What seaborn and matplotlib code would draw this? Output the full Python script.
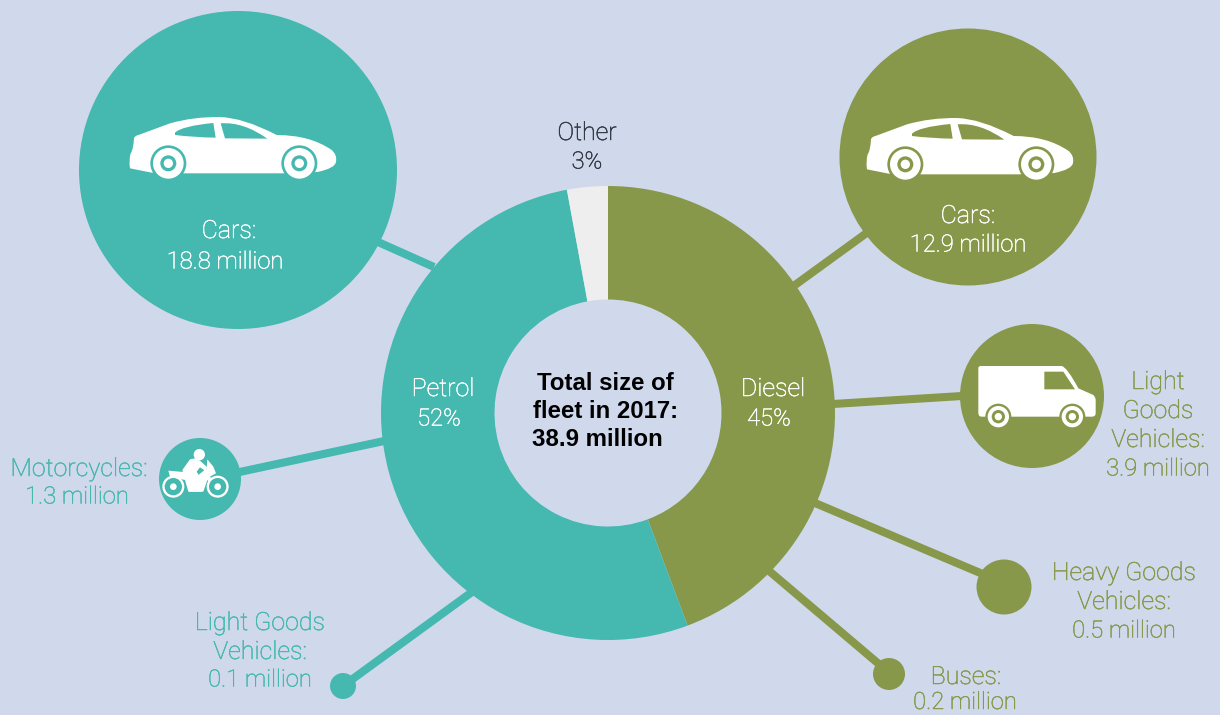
import matplotlib
matplotlib.use("Agg")
import matplotlib.pyplot as plt
import matplotlib.patheffects as pe
from matplotlib.patches import Circle, PathPatch
from matplotlib.path import Path
import pandas as pd
import seaborn as sns

# ---------- data ----------
fuel_labels = ["Diesel", "Petrol", "Other"]
fuel_labels_pct = ["45%", "52%", "3%"]
fuel_shares = [44.3, 52.8, 2.9]
vehicle_names = ["Petrol cars", "Petrol motorcycles", "Petrol LGV",
                 "Diesel cars", "Diesel LGV", "Diesel HGV", "Diesel buses"]
vehicle_fuel = ["Petrol", "Petrol", "Petrol", "Diesel", "Diesel", "Diesel", "Diesel"]
vehicle_millions = [18.8, 1.3, 0.1, 12.9, 3.9, 0.5, 0.2]

# ---------- style / layout ----------
BG, TEAL, OLIVE, PALE = "#D0D9EC", "#45B8AF", "#87984A", "#EEEEEE"
FONT = "Roboto"
CENTER, R_OUT, R_IN = (608, 413), 227, 113.5
bubble_x = [238, 200, 343, 968, 1032, 1004, 889]
bubble_y = [170, 479, 686, 157, 396, 587, 674]
bubble_r = [159, 41, 13, 128.5, 72, 27.5, 16]
links = [((378, 242), (434, 267)), ((384, 441), (235, 473)), ((472, 592), (343, 686)),
         ((795, 285), (868, 232)), ((833, 404), (962, 396)), ((815, 503), (985, 575)),
         ((768, 570), (880, 665))]
link_col = [TEAL] * 3 + [OLIVE] * 4

sns.set_theme(style="white")
fig = plt.figure(figsize=(12.2, 7.15), dpi=100, facecolor=BG)
ax = fig.add_axes([0, 0, 1, 1])
ax.set_facecolor(BG)

# links
for (a, b), c in zip(links, link_col):
    ax.plot([a[0], b[0]], [a[1], b[1]], color=c, lw=5.8, solid_capstyle="butt", zorder=1)

# donut: axis is inverted below so counterclock in data reads clockwise on screen
ax.pie(fuel_shares, colors=[OLIVE, TEAL, PALE], startangle=-90, counterclock=True,
       center=CENTER, radius=R_OUT, wedgeprops=dict(width=R_OUT - R_IN, linewidth=0),
       frame=True)

# bubbles (size mapped via seaborn; area in points^2 so the radius is in pixels)
df = pd.DataFrame({"x": bubble_x, "y": bubble_y, "name": vehicle_names,
                   "fuel": vehicle_fuel, "m": vehicle_millions})
sizes = {n: (2 * r * 0.72) ** 2 for n, r in zip(vehicle_names, bubble_r)}
sns.scatterplot(data=df, x="x", y="y", hue="fuel", size="name", sizes=sizes,
                palette={"Petrol": TEAL, "Diesel": OLIVE}, linewidth=0,
                legend=False, ax=ax, zorder=3)

ax.set_xlim(0, 1220)
ax.set_ylim(715, 0)
ax.set_aspect("equal")
ax.axis("off")
ax.set_xlabel("")
ax.set_ylabel("")


def shape(verts, codes, ox, oy, k, color, z=5):
    v = [(ox + x * k, oy + y * k) for x, y in verts]
    ax.add_patch(PathPatch(Path(v, codes), fc=color, ec="none", zorder=z))


def disc(x, y, r, ox, oy, k, color, z):
    ax.add_patch(Circle((ox + x * k, oy + y * k), r * k, fc=color, ec="none", zorder=z))


M, L, C, Z = Path.MOVETO, Path.LINETO, Path.CURVE3, Path.CLOSEPOLY


def car(ox, oy, bg):
    k = 1 / 3
    v = [(162, 145), (164, 137), (178, 134), (270, 100),
         (340, 80), (420, 81), (490, 83), (590, 135),
         (690, 135), (755, 180), (772, 195), (768, 215), (766, 235), (712, 246),
         (605, 250), (320, 250), (215, 248), (150, 235),
         (146, 210), (152, 190), (160, 180), (162, 145), (162, 145)]
    c = [M, C, C, L, C, C, C, C, C, C, C, C, C, C, L, L, L, L, C, C, C, C, Z]
    shape(v, c, ox, oy, k, "white", 5)
    w1 = [(285, 128), (305, 108), (400, 99), (407, 143), (340, 142), (285, 135), (285, 128), (285, 128)]
    shape(w1, [M, C, C, L, C, C, L, Z], ox, oy, k, bg, 6)
    w2 = [(422, 100), (490, 95), (562, 146), (435, 145), (422, 100)]
    shape(w2, [M, C, C, L, Z], ox, oy, k, bg, 6)
    for cx in (265, 658):
        disc(cx, 220, 54, ox, oy, k, bg, 6)
        disc(cx, 220, 46, ox, oy, k, "white", 7)
        disc(cx, 220, 24, ox, oy, k, bg, 8)
        disc(cx, 220, 14, ox, oy, k, "white", 9)


def van(ox, oy, bg):
    k = 1 / 3
    v = [(85, 145), (85, 138), (92, 138), (335, 138), (350, 140), (385, 205), (430, 225),
         (437, 232), (437, 240), (437, 280), (437, 290), (425, 290), (95, 290), (85, 290), (85, 278),
         (85, 145)]
    c = [M, C, C, L, C, L, L, C, C, L, C, C, L, C, C, Z]
    shape(v, c, ox, oy, k, "white", 5)
    w = [(283, 155), (340, 155), (375, 208), (283, 208), (283, 155)]
    shape(w, [M, L, L, L, Z], ox, oy, k, bg, 6)
    for cx in (145, 367):
        disc(cx, 290, 39, ox, oy, k, bg, 6)
        disc(cx, 290, 32, ox, oy, k, "white", 7)
        disc(cx, 290, 20, ox, oy, k, bg, 8)
        disc(cx, 290, 11, ox, oy, k, "white", 9)


def moto(ox, oy, bg):
    k = 1 / 3
    for cx in (70, 203):
        disc(cx, 170, 33, ox, oy, k, "white", 6)
        disc(cx, 170, 26, ox, oy, k, bg, 7)
        disc(cx, 170, 10, ox, oy, k, "white", 8)
    disc(148, 74, 17, ox, oy, k, "white", 6)
    rider = [(97, 120), (120, 88), (135, 85), (150, 92), (172, 112), (165, 122), (150, 112),
             (140, 125), (155, 150), (155, 185), (118, 185), (115, 145), (100, 130), (97, 120)]
    shape(rider, [M] + [L] * 12 + [Z], ox, oy, k, "white", 6)
    bike = [(55, 122), (125, 128), (145, 135), (170, 115), (172, 88), (190, 110), (198, 130),
            (180, 140), (210, 175), (200, 180), (172, 150), (160, 185), (115, 185), (105, 150),
            (60, 140), (55, 122)]
    shape(bike, [M] + [L] * 14 + [Z], ox, oy, k, "white", 6)


car(80, 90, TEAL)
car(817, 91, OLIVE)
van(950, 320, OLIVE)
moto(150, 430, TEAL)


def t(x, y, s, color):
    size = 17.1 if ("million" in s or "%" in s) else 18.0
    ax.text(x, y + 2, s, color=color, ha="center", va="center", fontsize=size,
            family=FONT, fontweight="light", zorder=10,
            path_effects=[pe.withStroke(linewidth=0.35, foreground=color)])


WHITE = "white"
t(229, 229, "Cars:", WHITE)
t(225, 260, "18.8 million", WHITE)
t(968, 214, "Cars:", WHITE)
t(968, 243, "12.9 million", WHITE)
t(443, 387, fuel_labels[1], WHITE)
t(439, 417, fuel_labels_pct[1], WHITE)
t(773, 387, fuel_labels[0], WHITE)
t(769, 417, fuel_labels_pct[0], WHITE)
t(587, 131, fuel_labels[2], "#333842")
t(587, 160, fuel_labels_pct[2], "#333842")
for y, s in [(380, "Light"), (409, "Goods"), (438, "Vehicles:"), (467, "3.9 million")]:
    t(1158, y, s, OLIVE)
for y, s in [(571, "Heavy Goods"), (600, "Vehicles:"), (629, "0.5 million")]:
    t(1124, y, s, OLIVE)
t(966, 675, "Buses:", OLIVE)
t(965, 700.5, "0.2 million", OLIVE)
t(79, 467, "Motorcycles:", TEAL)
t(77, 495, "1.3 million", TEAL)
for y, s in [(621, "Light Goods"), (650, "Vehicles:"), (678, "0.1 million")]:
    t(260, y, s, TEAL)
for x, y, s in [(605.5, 384, "Total size of"), (606, 412, "fleet in 2017:"), (597.5, 439, "38.9 million")]:
    ax.text(x, y, s, color="black", ha="center", va="center", fontsize=17.3,
            family="Liberation Sans", fontweight="bold", zorder=10)

fig.savefig("out.png", dpi=100, facecolor=BG)
